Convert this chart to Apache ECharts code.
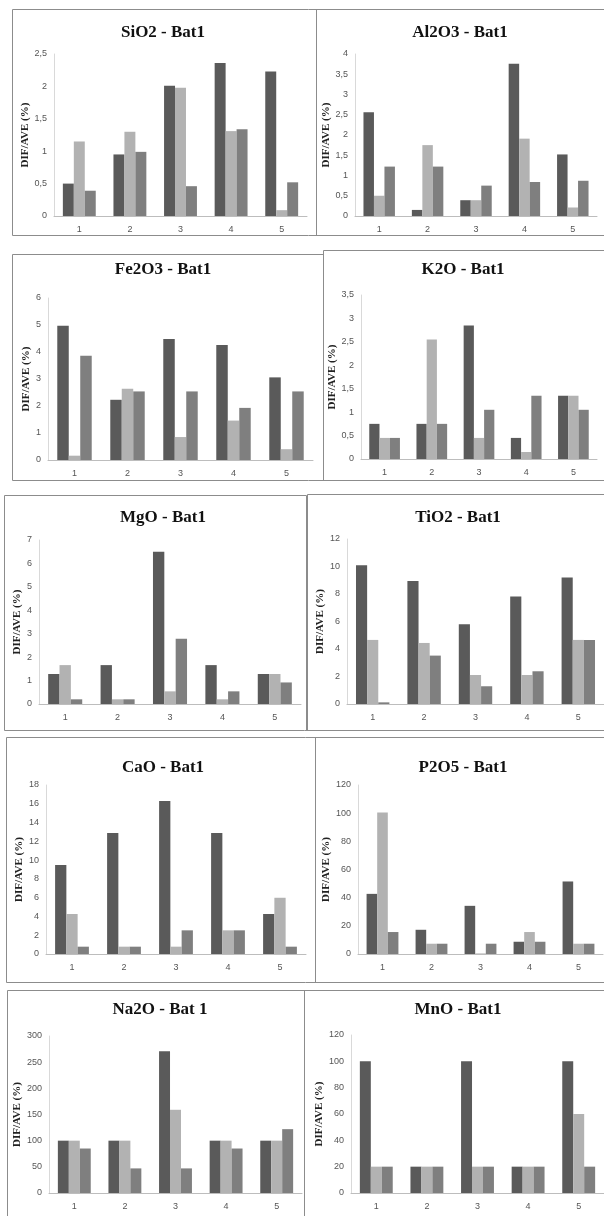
<!DOCTYPE html>
<html>
<head>
<meta charset="utf-8">
<script src="https://cdn.jsdelivr.net/npm/echarts@6/dist/echarts.min.js"></script>
<style>
html,body{margin:0;padding:0;background:#fff;}
#c{width:604px;height:1216px;}
</style>
</head>
<body>
<div id="c"></div>
<script>
// ---- data ----
const categories = ['1', '2', '3', '4', '5'];
const titles = ['SiO2 - Bat1', 'Al2O3 - Bat1', 'Fe2O3 - Bat1', 'K2O - Bat1', 'MgO - Bat1',
                'TiO2 - Bat1', 'CaO - Bat1', 'P2O5 - Bat1', 'Na2O - Bat 1', 'MnO - Bat1'];
const yAxisTitle = 'DIF/AVE (%)';
const yMax  = [2.5, 4, 6, 3.5, 7, 12, 18, 120, 300, 120];
const yStep = [0.5, 0.5, 1, 0.5, 1, 2, 2, 20, 50, 20];
// each: [dark series, light series, medium series]
const sio2  = [[0.50, 0.95, 2.01, 2.36, 2.23], [1.15, 1.30, 1.98, 1.31, 0.09], [0.39, 0.99, 0.46, 1.34, 0.52]];
const al2o3 = [[2.56, 0.15, 0.39, 3.76, 1.52], [0.50, 1.75, 0.39, 1.91, 0.21], [1.22, 1.22, 0.75, 0.84, 0.87]];
const fe2o3 = [[4.97, 2.23, 4.48, 4.26, 3.06], [0.16, 2.64, 0.85, 1.46, 0.40], [3.86, 2.54, 2.54, 1.93, 2.54]];
const k2o   = [[0.75, 0.75, 2.85, 0.45, 1.35], [0.45, 2.55, 0.45, 0.15, 1.35], [0.45, 0.75, 1.05, 1.35, 1.05]];
const mgo   = [[1.28, 1.66, 6.50, 1.66, 1.28], [1.66, 0.20, 0.54, 0.20, 1.28], [0.20, 0.20, 2.79, 0.54, 0.92]];
const tio2  = [[10.1, 8.95, 5.80, 7.82, 9.20], [4.66, 4.44, 2.11, 2.11, 4.66], [0.12, 3.52, 1.29, 2.38, 4.66]];
const cao   = [[9.47, 12.9, 16.3, 12.9, 4.26], [4.26, 0.78, 0.78, 2.52, 5.99], [0.78, 0.78, 2.52, 2.52, 0.78]];
const p2o5  = [[42.7, 17.2, 34.2, 8.7, 51.5], [100.4, 7.3, 0.4, 15.6, 7.3], [15.6, 7.3, 7.3, 8.7, 7.3]];
const na2o  = [[100, 100, 271, 100, 100], [100, 100, 159, 100, 100], [85, 47, 47, 85, 122]];
const mno   = [[100, 20, 100, 20, 100], [20, 20, 20, 20, 60], [20, 20, 20, 20, 20]];
const panels = [sio2, al2o3, fe2o3, k2o, mgo, tio2, cao, p2o5, na2o, mno];

// ---- layout / style ----
const grids = [
  [54, 54, 253, 162], [355, 54, 242, 162],
  [48, 298, 265, 162], [361, 295, 236, 164],
  [39, 540, 262, 164], [347, 539, 258, 165],
  [46, 785, 260, 169], [358, 785, 245, 169],
  [49, 1036, 253, 157], [351, 1035, 253, 158]
];
const titlePos = [[163, 33], [460, 33], [163, 270], [463, 270], [163, 518], [458, 518],
                  [163, 768], [463, 768], [160, 1010], [458, 1010]];
const nameGaps = [19, 20, 15, 16, 17, 16, 20, 22, 21, 21];
const colors = ['#5a5a5a', '#b2b2b2', '#7f7f7f'];
const frameLines = [
  // row 1
  [12, 9, 604, 9], [12, 9, 12, 235], [316, 9, 316, 235], [12, 235, 604, 235],
  // row 2
  [12, 254, 323, 254], [323, 250, 604, 250], [12, 254, 12, 480], [323, 250, 323, 480], [12, 480, 604, 480],
  // row 3
  [4, 495, 306, 495], [307, 494, 604, 494], [4, 495, 4, 730], [306, 495, 306, 730], [307, 494, 307, 730], [4, 730, 604, 730],
  // row 4
  [6, 737, 604, 737], [6, 737, 6, 982], [315, 737, 315, 982], [6, 982, 604, 982],
  // row 5
  [7, 990, 604, 990], [7, 990, 7, 1216], [304, 990, 304, 1216]
];

const fmt = v => String(+v.toFixed(2)).replace('.', ',');

const option = {
  backgroundColor: '#fff',
  animation: false,
  grid: [], xAxis: [], yAxis: [], series: [], graphic: []
};

panels.forEach((p, i) => {
  const g = grids[i];
  option.grid.push({ left: g[0], top: g[1], width: g[2], height: g[3], containLabel: false });
  option.xAxis.push({
    type: 'category', gridIndex: i, data: categories,
    axisLine: { lineStyle: { color: '#bdbdbd', width: 1 } },
    axisTick: { show: false },
    axisLabel: { color: '#555', fontSize: 9, fontFamily: '"Liberation Sans Narrow", "Liberation Sans", sans-serif', margin: 9 }
  });
  option.yAxis.push({
    type: 'value', gridIndex: i, min: 0, max: yMax[i], interval: yStep[i],
    name: yAxisTitle, nameLocation: 'middle', nameGap: nameGaps[i] - 1, nameRotate: 90,
    nameTextStyle: { fontFamily: '"Liberation Serif", serif', fontWeight: 'bold', fontSize: 11, color: '#222' },
    axisLine: { show: true, lineStyle: { color: '#d9d9d9', width: 1 } },
    axisTick: { show: false },
    splitLine: { show: false },
    axisLabel: { color: '#555', fontSize: 9, fontFamily: '"Liberation Sans Narrow", "Liberation Sans", sans-serif', margin: 7, formatter: fmt }
  });
  p.forEach((vals, k) => {
    option.series.push({
      type: 'bar', xAxisIndex: i, yAxisIndex: i, data: vals,
      barGap: '0%', barCategoryGap: '35%',
      itemStyle: { color: colors[k] }
    });
  });
  option.graphic.push({
    type: 'text', x: titlePos[i][0], y: titlePos[i][1],
    style: { text: titles[i], fill: '#111', font: 'bold 17px "Liberation Serif", serif', textAlign: 'center', textVerticalAlign: 'middle' }
  });
});

frameLines.forEach(l => {
  option.graphic.push({
    type: 'line', shape: { x1: l[0] + 0.5, y1: l[1] + 0.5, x2: l[2] + 0.5, y2: l[3] + 0.5 },
    style: { stroke: '#8c8c8c', lineWidth: 1 }, silent: true
  });
});

const chart = echarts.init(document.getElementById('c'), null, { renderer: 'canvas' });
chart.setOption(option);
</script>
</body>
</html>
